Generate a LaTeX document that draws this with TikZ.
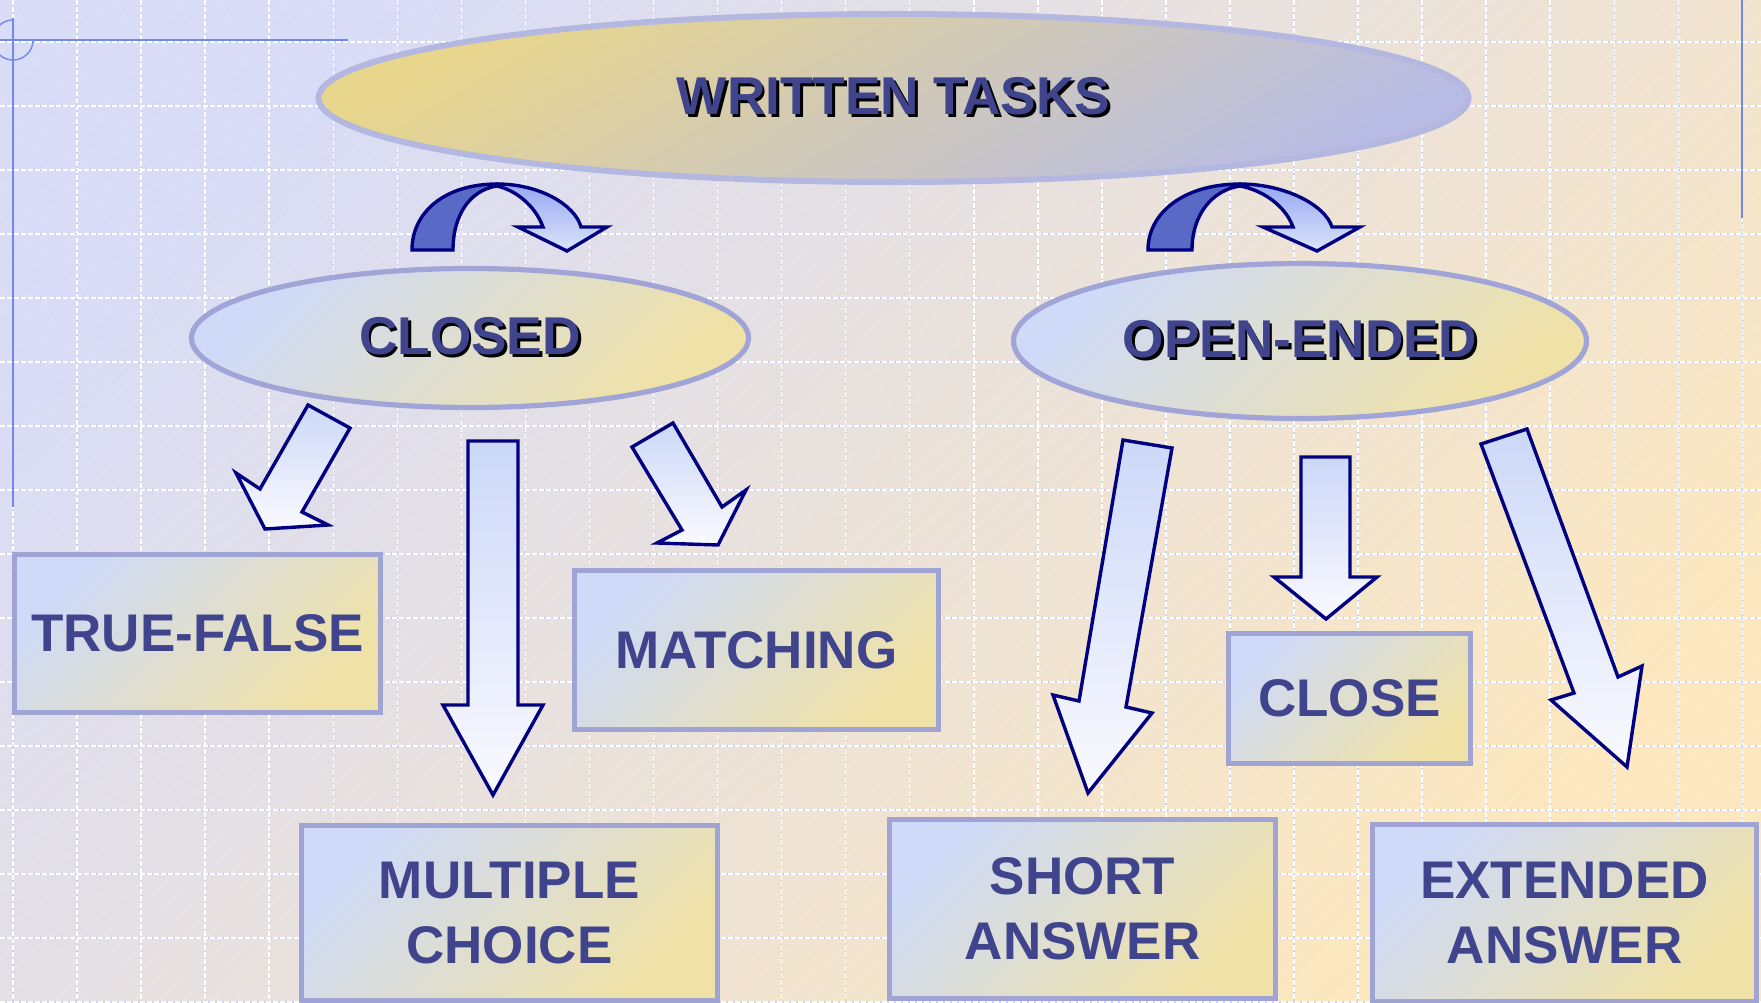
\documentclass[tikz,border=0pt]{standalone}
\usepackage{fontspec}
\setmainfont{Liberation Sans}
\usetikzlibrary{shapes.geometric}
\definecolor{bgA}{RGB}{217,220,246}
\definecolor{bgB}{RGB}{252,231,190}
\definecolor{gridblue}{RGB}{200,212,246}
\definecolor{deco}{RGB}{112,136,240}
\definecolor{txt}{RGB}{64,68,140}
\definecolor{navy}{RGB}{0,0,128}
\definecolor{ellstrokeA}{RGB}{180,184,224}
\definecolor{ellstroke}{RGB}{160,164,214}
\definecolor{boxstroke}{RGB}{160,164,212}
\definecolor{lblue}{RGB}{206,218,248}
\definecolor{lyellow}{RGB}{240,226,166}
\definecolor{tyellow}{RGB}{232,214,140}
\definecolor{tlav}{RGB}{184,188,228}
\definecolor{arrtop}{RGB}{204,216,248}
\definecolor{arrbot}{RGB}{250,250,255}
\definecolor{darkpart}{RGB}{88,106,198}
\definecolor{curvA}{RGB}{150,168,240}
\definecolor{curvB}{RGB}{220,228,252}
\newcommand\shtext[1]{\leavevmode\rlap{\kern1.4pt\raisebox{-1.4pt}{\color{black}#1}}#1}
\begin{document}
\begin{tikzpicture}[x=0.5pt,y=-0.5pt,
  ell/.style={ellipse, draw=ellstroke, line width=2.6pt, inner sep=0pt, text=txt,
    font=\fontsize{26.6}{30}\selectfont\bfseries,
    top color=lblue, bottom color=lyellow, shading angle=45},
  box/.style={rectangle, draw=boxstroke, line width=2.5pt, inner sep=0pt, text=txt, align=center,
    font=\fontsize{26.5}{32.5}\selectfont\bfseries,
    top color=lblue, bottom color=lyellow, shading angle=45},
  blockarrow/.style={draw=navy, line width=1.7pt, line join=miter, top color=arrtop, bottom color=arrbot},
  decoline/.style={draw=deco, line width=0.7pt},
  gridbase/.style={draw=gridblue, line width=0.6pt},
  griddash/.style={draw=white, line width=0.75pt, dash pattern=on 2.5pt off 1pt},
  hatch/.style={draw=white, opacity=0.18, line width=0.4pt}
]
\useasboundingbox (0,0) rectangle (1761,1002);
% background
\shade[top color=bgA, bottom color=bgB, shading angle=45] (0,0) rectangle (1761,1002);
\begin{scope}
\clip (0,0) rectangle (1761,1002);
\foreach \k in {-1300,-1274,...,1761} \draw[hatch] (\k,1002) -- ({\k+1180},0);
\end{scope}
% grid
\foreach \i in {0,...,27} {
  \draw[gridbase] ({13+64.05*\i},0) -- ({13+64.05*\i},1002);
  \draw[griddash] ({13+64.05*\i},0) -- ({13+64.05*\i},1002);
}
\foreach \j in {0,...,15} {
  \draw[gridbase] (0,{42+64*\j}) -- (1761,{42+64*\j});
  \draw[griddash] (0,{42+64*\j}) -- (1761,{42+64*\j});
}
% decorative lines
\draw[decoline] (0,40) -- (348,40);
\draw[decoline] (13,18) -- (13,507);
\draw[decoline] plot[domain=0:270, samples=60] ({13+20*cos(\x)}, {40+20*sin(\x)});
\draw[decoline] (1742,0) -- (1742,218);

% ellipses
\node[ell, draw=ellstrokeA, line width=3pt, minimum width=575pt, minimum height=84pt,
      top color=tyellow, bottom color=tlav, shading angle=30] (written) at (893.5,98) {\shtext{WRITTEN TASKS}};
\node[ell, minimum width=278.5pt, minimum height=69.5pt] (closed) at (470,338) {\shtext{CLOSED}};
\node[ell, minimum width=286.5pt, minimum height=77.5pt] (open) at (1300,341) {\shtext{OPEN-ENDED}};

% curved arrows
\filldraw[fill=darkpart, draw=navy, line width=1.7pt, line join=miter]
  (412,250) .. controls (412,212) and (445,184) .. (497,184) -- (497,186)
  .. controls (470,190) and (453,215) .. (453,250) -- cycle;
\draw[top color=curvA, bottom color=curvB, draw=navy, line width=1.7pt, line join=miter]
  (497,184) .. controls (540,184) and (575,205) .. (581,227) -- (607,227) -- (567,251)
  -- (518,227) -- (543,227) .. controls (535,205) and (515,190) .. (497,186) -- cycle;
\filldraw[fill=darkpart, draw=navy, line width=1.7pt, line join=miter]
  (1148,250) .. controls (1148,212) and (1185,184) .. (1240,184) -- (1240,186)
  .. controls (1212,190) and (1192,215) .. (1192,250) -- cycle;
\draw[top color=curvA, bottom color=curvB, draw=navy, line width=1.7pt, line join=miter]
  (1240,184) .. controls (1285,184) and (1325,205) .. (1332,227) -- (1360,227) -- (1317,251)
  -- (1263,227) -- (1293,227) .. controls (1285,205) and (1262,190) .. (1240,186) -- cycle;

% block arrows
\draw[blockarrow] (308,405) -- (350,428) -- (302,512) -- (328,525) -- (265,529) -- (236,473) -- (260,489) -- cycle;
\draw[blockarrow] (468,441) -- (518,441) -- (518,705) -- (543,705) -- (493,795) -- (443,705) -- (468,705) -- cycle;
\draw[blockarrow] (632,447) -- (673,423) -- (722,507) -- (746,490) -- (718,545) -- (657,543) -- (682,530) -- cycle;
\draw[blockarrow] (1123,440) -- (1172,448) -- (1126,707) -- (1152,713) -- (1088,793) -- (1053,695) -- (1079,701) -- cycle;
\draw[blockarrow] (1301,457) -- (1350,457) -- (1350,577) -- (1377,577) -- (1326,619) -- (1274,577) -- (1301,577) -- cycle;
\draw[blockarrow] (1481,444) -- (1527,429) -- (1618,677) -- (1642,666) -- (1627,767) -- (1551,700) -- (1574,693) -- cycle;

% boxes
\node[box, minimum width=183pt, minimum height=79pt] (tf) at (197.5,633.5) {TRUE-FALSE};
\node[box, minimum width=182pt, minimum height=79.5pt] (match) at (756.5,650) {MATCHING};
\node[box, minimum width=208pt, minimum height=87.5pt] (mc) at (509.5,913) {MULTIPLE\\CHOICE};
\node[box, minimum width=193pt, minimum height=89.5pt] (short) at (1082.5,909) {SHORT\\ANSWER};
\node[box, minimum width=121pt, minimum height=65pt] (close) at (1349.5,698) {CLOSE};
\node[box, minimum width=192pt, minimum height=88.5pt] (ext) at (1564.5,913) {EXTENDED\\ANSWER};
\end{tikzpicture}
\end{document}
